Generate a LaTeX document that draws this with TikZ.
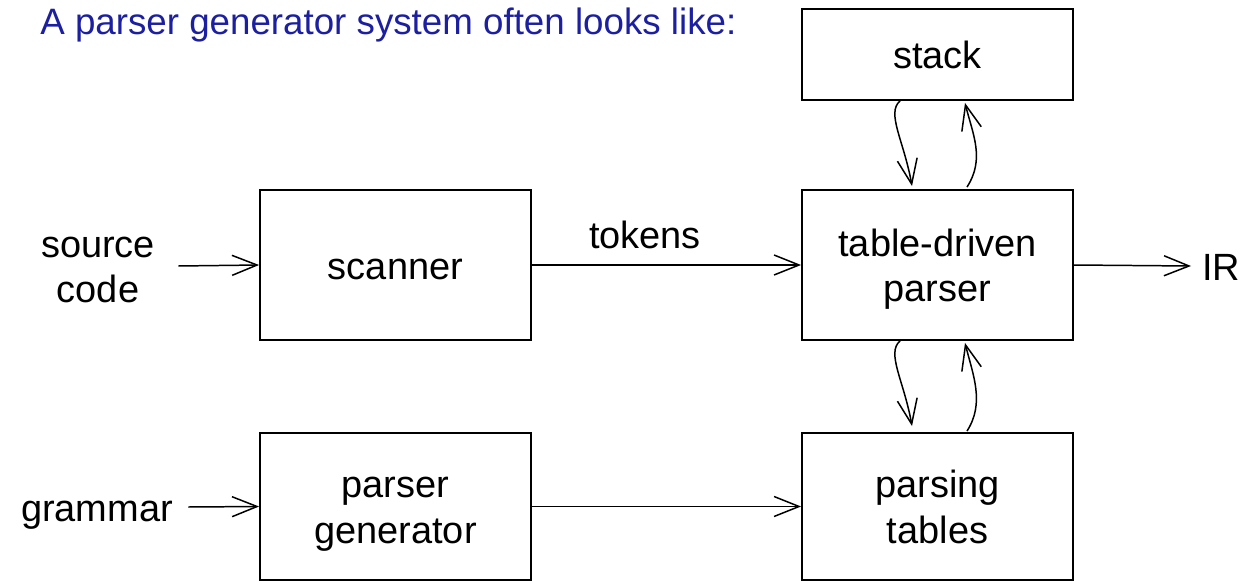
\documentclass[tikz,border=0pt]{standalone}
\usepackage{fontspec}
\setmainfont{Liberation Sans}
\usetikzlibrary{arrows.meta,calc}
\definecolor{titleblue}{RGB}{28,32,160}
\newcommand\tworows[2]{\begin{tabular}[t]{@{}c@{}}#1\\#2\end{tabular}}
\begin{document}
\begin{tikzpicture}[x=0.02cm,y=-0.02cm,
  every node/.style={font=\fontsize{21.6}{26}\selectfont},
  one/.style={text height=23pt,text depth=6.6pt},
  two/.style={text height=23.8pt,text depth=34pt},
  box/.style={draw,line width=1.1pt,minimum width=5.42cm,inner sep=0pt},
  lbl/.style={inner sep=0pt},
  arr/.style={line width=0.85pt,-{Straight Barb[length=0.5cm,width=0.4cm,line width=0.85pt]}}]
\useasboundingbox (0,0) rectangle (1250,581);
\node[titleblue,anchor=base west,inner sep=0pt,font=\fontsize{20.9}{25}\selectfont] (title) at (40,35) {A parser generator system often looks like:};
\node[box,one,minimum height=1.82cm] (stack) at (937.5,54.5) {stack};
\node[box,one,minimum height=3cm] (scanner) at (395.5,265) {scanner};
\node[box,two,minimum height=3cm] (parser) at (937.5,265) {\tworows{table-driven}{parser}};
\node[box,two,minimum height=2.94cm] (pgen) at (395.5,506.5) {\tworows{parser}{generator}};
\node[box,two,minimum height=2.94cm] (tables) at (937.5,506.5) {\tworows{parsing}{tables}};
\node[lbl,two,inner xsep=0.46cm] (src) at (98,266) {\tworows{source}{code}};
\node[lbl,one,inner xsep=0.3cm] (gram) at (97,507) {grammar};
\node[lbl,one,anchor=west,inner xsep=0.22cm] (ir) at (1191,266) {IR};
\draw[arr] (src.east) -- (scanner.west);
\draw[arr] (gram.east) -- (pgen.west);
\draw[arr] (scanner.east) -- node[pos=0.42,above=9pt,inner sep=0pt] (tok) {tokens} (parser.west);
\draw[arr] (pgen.east) -- (tables.west);
\draw[arr] (parser.east) -- (ir.west);
% stack <-> parser
\draw[arr] ($(stack.south)+(-37.5,0)$) .. controls +(-14,12) and +(-8,-45) .. ($(parser.north)+(-25.5,-3)$);
\draw[arr] ($(parser.north)+(29.5,-2)$) .. controls +(18,-28) and +(8,32) .. ($(stack.south)+(27.5,2)$);
% parser <-> tables
\draw[arr] ($(parser.south)+(-37.5,0)$) .. controls +(-14,12) and +(-8,-45) .. ($(tables.north)+(-25.5,-6)$);
\draw[arr] ($(tables.north)+(29.5,-1)$) .. controls +(18,-28) and +(8,32) .. ($(parser.south)+(27.5,2)$);
\end{tikzpicture}
\end{document}
